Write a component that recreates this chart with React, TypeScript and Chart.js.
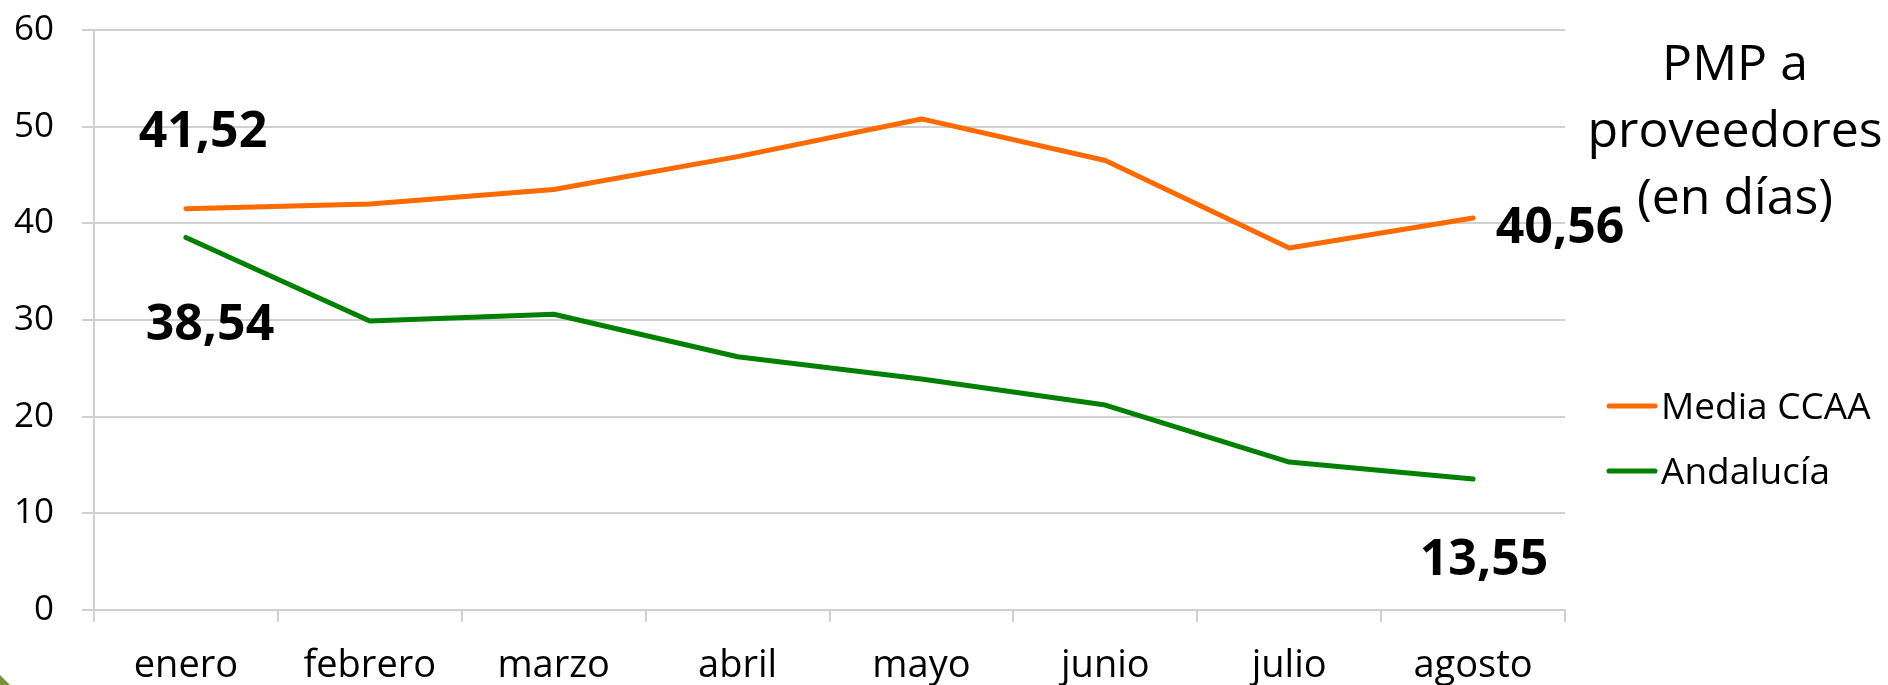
import React, { useEffect, useRef } from "react";
import { Chart, registerables } from "chart.js";

Chart.register(...registerables);

const categories = ["enero", "febrero", "marzo", "abril", "mayo", "junio", "julio", "agosto"];
const mediaCCAA = [41.52, 42.0, 43.5, 46.9, 50.8, 46.5, 37.45, 40.56];
const andalucia = [38.54, 29.9, 30.6, 26.2, 23.9, 21.2, 15.3, 13.55];
const seriesNames = ["Media CCAA", "Andalucía"];
const seriesColors = ["#FF6A00", "#008000"];
const titleLines = ["PMP a", "proveedores", "(en días)"];
// [dataset index, point index] of the values written on the chart
const labelledPoints = [
  [0, 0],
  [1, 0],
  [0, 7],
  [1, 7],
];
const labelOffsets = [
  [17, -80],
  [24, 85],
  [87, 7],
  [11, 78],
];

const FONT = "'Open Sans', 'DejaVu Sans', sans-serif";

const fmt = (v: number) => v.toFixed(2).replace(".", ",");

const overlayPlugin = {
  id: "overlay",
  afterDraw(chart: any) {
    const ctx = chart.ctx as CanvasRenderingContext2D;
    ctx.save();
    // decorative corner
    ctx.fillStyle = "#76923C";
    ctx.beginPath();
    ctx.moveTo(0, 675);
    ctx.lineTo(10, 685);
    ctx.lineTo(0, 685);
    ctx.closePath();
    ctx.fill();

    // data labels
    ctx.fillStyle = "#000";
    ctx.font = `bold 50px ${FONT}`;
    ctx.textAlign = "center";
    ctx.textBaseline = "alphabetic";
    labelledPoints.forEach(([d, i], k) => {
      const el = chart.getDatasetMeta(d).data[i];
      const v = chart.data.datasets[d].data[i] as number;
      ctx.fillText(fmt(v), el.x + labelOffsets[k][0], el.y + labelOffsets[k][1] + 18);
    });

    // title
    ctx.font = `50px ${FONT}`;
    titleLines.forEach((t, k) => ctx.fillText(t, 1735, 80 + k * 67));

    // legend
    ctx.font = `37px ${FONT}`;
    ctx.textAlign = "left";
    chart.data.datasets.forEach((ds: any, k: number) => {
      const y = 406 + k * 65;
      ctx.strokeStyle = ds.borderColor;
      ctx.lineWidth = 5;
      ctx.lineCap = "round";
      ctx.beginPath();
      ctx.moveTo(1609, y);
      ctx.lineTo(1655, y);
      ctx.stroke();
      ctx.fillText(ds.label, 1661, y + 13);
    });
    ctx.restore();
  },
};

export default function App() {
  const ref = useRef<HTMLCanvasElement | null>(null);

  useEffect(() => {
    if (!ref.current) return;
    const chart = new Chart(ref.current, {
      type: "line",
      data: {
        labels: categories,
        datasets: [
          {
            label: seriesNames[0],
            data: mediaCCAA,
            borderColor: seriesColors[0],
            backgroundColor: seriesColors[0],
            borderWidth: 5,
            pointRadius: 0,
            tension: 0,
            borderCapStyle: "round",
            borderJoinStyle: "round",
          },
          {
            label: seriesNames[1],
            data: andalucia,
            borderColor: seriesColors[1],
            backgroundColor: seriesColors[1],
            borderWidth: 5,
            pointRadius: 0,
            tension: 0,
            borderCapStyle: "round",
            borderJoinStyle: "round",
          },
        ],
      },
      options: {
        responsive: false,
        animation: false,
        layout: { padding: { top: 30, right: 323, left: 0, bottom: 0 } },
        plugins: {
          legend: { display: false },
          title: { display: false },
          tooltip: { enabled: false },
        },
        scales: {
          x: {
            offset: true,
            grid: {
              offset: true,
              drawOnChartArea: false,
              drawTicks: true,
              tickLength: 12,
              color: "#D0D0D0",
              lineWidth: 2,
            },
            border: { display: true, color: "#D0D0D0", width: 2 },
            ticks: {
              color: "#000",
              padding: 21,
              font: { family: FONT, size: 38 },
              maxRotation: 0,
              autoSkip: false,
            },
            afterFit(scale: any) {
              scale.height = 75;
              scale.paddingLeft = 0;
              scale.paddingRight = 0;
            },
          },
          y: {
            min: 0,
            max: 60,
            ticks: {
              stepSize: 10,
              color: "#000",
              padding: 28,
              font: { family: FONT, size: 35 },
            },
            grid: {
              color: "#D0D0D0",
              lineWidth: 2,
              tickLength: 12,
            },
            border: { display: true, color: "#D0D0D0", width: 2 },
            afterFit(scale: any) {
              scale.width = 94;
              scale.paddingTop = 0;
              scale.paddingBottom = 0;
            },
          },
        },
      },
      plugins: [overlayPlugin],
    });
    return () => chart.destroy();
  }, []);

  return (
    <div style={{ position: "fixed", left: 0, top: 0, width: 1888, height: 685, background: "#fff" }}>
      <canvas ref={ref} width={1888} height={685} style={{ display: "block" }} />
    </div>
  );
}
